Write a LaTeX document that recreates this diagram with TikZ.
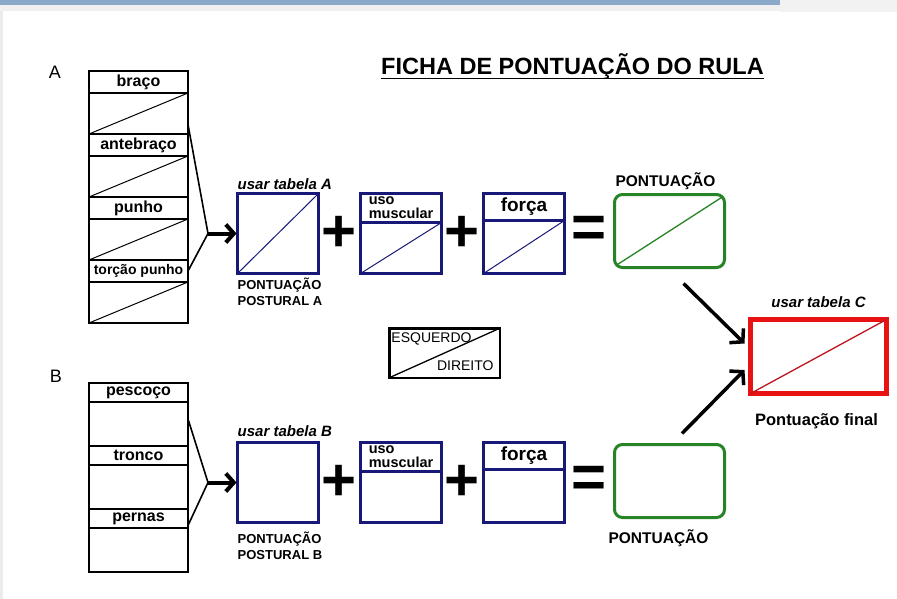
\documentclass[tikz,border=0pt]{standalone}
\usepackage{fontspec}
\setmainfont{Liberation Sans}
\usetikzlibrary{positioning,arrows.meta,calc}

\definecolor{azulescuro}{RGB}{24,24,120}
\definecolor{verdebox}{RGB}{38,132,38}
\definecolor{vermelhobox}{RGB}{232,18,18}
\definecolor{vermelhodiag}{RGB}{190,20,30}
\definecolor{barratopo}{RGB}{138,168,200}

\newcommand{\tamanho}[1]{\fontsize{#1}{#1}\selectfont}

\begin{document}
\begin{tikzpicture}[x=1pt,y=-1pt,
    headnode/.style={rectangle, draw, line width=2.5pt, inner sep=0pt, outer sep=0pt, minimum width=99pt, minimum height=22pt, font=\bfseries\tamanho{16}},
    cellnode/.style={rectangle, draw, line width=2.5pt, inner sep=0pt, outer sep=0pt, minimum width=99pt, minimum height=41pt},
    scorebox/.style={rectangle, draw=azulescuro, line width=3pt, inner sep=0pt, outer sep=0pt, minimum width=81pt, minimum height=80pt},
    scorehead/.style={rectangle, draw=azulescuro, line width=2.5pt, inner sep=0pt, outer sep=0pt, minimum width=81pt, minimum height=29pt},
    resultbox/.style={rectangle, rounded corners=8pt, draw=verdebox, line width=3pt, inner sep=0pt, outer sep=0pt, minimum width=110pt, minimum height=73pt},
    finalbox/.style={rectangle, draw=vermelhobox, line width=5pt, inner sep=0pt, outer sep=0pt, minimum width=136pt, minimum height=74pt},
    sidebox/.style={rectangle, draw, line width=2.5pt, inner sep=0pt, outer sep=0pt, minimum width=110.5pt, minimum height=49.5pt},
    opnode/.style={inner sep=0pt, font=\bfseries\tamanho{60}},
    tabnote/.style={inner sep=0pt, font=\bfseries\itshape\tamanho{15}},
    smallcap/.style={inner sep=0pt, align=left, font=\bfseries\fontsize{13}{16}\selectfont},
    greencap/.style={inner sep=0pt, font=\bfseries\tamanho{15.5}},
    usohead/.style={scorehead, anchor=north, align=left, font=\bfseries\fontsize{14.5}{14}\selectfont},
    bigarrow/.style={line width=4pt, -{Straight Barb[length=8pt,width=18pt]}, shorten >=1pt},
    bentarrow/.style={line width=3.5pt, -{Straight Barb[length=9pt,width=20pt]}},
    thinline/.style={line width=1.6pt},
    diagline/.style={line width=1pt}]

\useasboundingbox (0,0) rectangle (897,599);
\fill[white] (0,0) rectangle (897,599);
\fill[barratopo] (0,0) rectangle (780,5);
\fill[black!6] (0,5) rectangle (780,11);
\fill[black!5] (780,0) rectangle (897,12);
\fill[black!8] (0,11) rectangle (2.5,599);

% titulo
\node[inner sep=0pt, anchor=base, font=\bfseries\tamanho{23.5}] (titulo) at (572.5,75) {FICHA DE PONTUAÇÃO DO RULA};
\draw[line width=1.8pt] ([yshift=-3.5pt]titulo.base west) -- ([yshift=-3.5pt]titulo.base east);

\node[inner sep=0pt, font=\tamanho{18}] (letraA) at (55,72) {A};
\node[inner sep=0pt, font=\tamanho{18}] (letraB) at (56,376) {B};

% coluna A
\node[headnode] (braco) at (138.5,82) {braço};
\node[cellnode] (bracoC) [below=0pt of braco] {};
\node[headnode] (antebraco) [below=0pt of bracoC] {antebraço};
\node[cellnode] (antebracoC) [below=0pt of antebraco] {};
\node[headnode] (punho) [below=0pt of antebracoC] {punho};
\node[cellnode] (punhoC) [below=0pt of punho] {};
\node[headnode, font=\bfseries\tamanho{14}] (torcao) [below=0pt of punhoC] {torção punho};
\node[cellnode] (torcaoC) [below=0pt of torcao] {};
\foreach \c in {bracoC,antebracoC,punhoC,torcaoC}
    \draw[diagline] (\c.south west) -- (\c.north east);

% coluna B
\node[headnode, minimum height=19pt] (pescoco) at (138.5,392.5) {pescoço};
\node[cellnode, minimum height=44pt] (pescocoC) [below=0pt of pescoco] {};
\node[headnode, minimum height=19pt] (tronco) [below=0pt of pescocoC] {tronco};
\node[cellnode, minimum height=44pt] (troncoC) [below=0pt of tronco] {};
\node[headnode, minimum height=19pt] (pernas) [below=0pt of troncoC] {pernas};
\node[cellnode, minimum height=44pt] (pernasC) [below=0pt of pernas] {};

% linha A
\node[scorebox] (postA) at (278,233.5) {};
\node[scorebox] (usoA) [right=42pt of postA] {};
\node[usohead] (usoAh) at (usoA.north) {uso\\muscular};
\node[scorebox] (forcaA) [right=42pt of usoA] {};
\node[scorehead, anchor=north, minimum height=27pt, font=\bfseries\tamanho{19}] (forcaAh) at (forcaA.north) {força};
\node[resultbox] (totalA) at (669.5,231) {};
\node[opnode] (maisA1) at ($(postA.east)!0.5!(usoA.west)$) {+};
\node[opnode] (maisA2) at ($(usoA.east)!0.5!(forcaA.west)$) {+};
\node[opnode] (igualA) at ($(forcaA.east)!0.5!(totalA.west)$) {=};
\draw[diagline, azulescuro] (postA.south west) -- (postA.north east);
\draw[diagline, azulescuro] (usoA.south west) -- (usoAh.south east);
\draw[diagline, azulescuro] (forcaA.south west) -- (forcaAh.south east);
\draw[diagline, verdebox, line width=1.3pt] ([shift={(3pt,3pt)}]totalA.south west) -- ([shift={(-3pt,-3pt)}]totalA.north east);
\node[tabnote, anchor=south west] (tabA) at ([yshift=4pt]postA.north west) {usar tabela A};
\node[smallcap, anchor=north west] (posturalA) at ([yshift=-4pt]postA.south west) {PONTUAÇÃO\\POSTURAL A};
\node[greencap, anchor=base] (pontA) at ([xshift=-4pt,yshift=8pt]totalA.north) {PONTUAÇÃO};

% linha B
\node[scorebox] (postB) at (278,482.5) {};
\node[scorebox] (usoB) [right=42pt of postB] {};
\node[usohead] (usoBh) at (usoB.north) {uso\\muscular};
\node[scorebox] (forcaB) [right=42pt of usoB] {};
\node[scorehead, anchor=north, minimum height=27pt, font=\bfseries\tamanho{19}] (forcaBh) at (forcaB.north) {força};
\node[resultbox] (totalB) at (669.5,481) {};
\node[opnode] (maisB1) at ($(postB.east)!0.5!(usoB.west)$) {+};
\node[opnode] (maisB2) at ($(usoB.east)!0.5!(forcaB.west)$) {+};
\node[opnode] (igualB) at ($(forcaB.east)!0.5!(totalB.west)$) {=};
\node[tabnote, anchor=south west] (tabB) at ([yshift=6pt]postB.north west) {usar tabela B};
\node[smallcap, anchor=north west] (posturalB) at ([yshift=-9pt]postB.south west) {PONTUAÇÃO\\POSTURAL B};
\node[greencap, anchor=base] (pontB) at ([xshift=-11pt,yshift=-26pt]totalB.south) {PONTUAÇÃO};

% ligacoes das colunas
\coordinate (juncA) at (208,233.5);
\coordinate (juncB) at (208,482.5);
\draw[thinline] ([yshift=-11pt]bracoC.east) -- (juncA) -- (torcao.east);
\draw[bigarrow] (juncA) -- (postA.west);
\draw[thinline] ([yshift=5pt]pescocoC.east) -- (juncB) -- ([yshift=-7pt]pernas.east);
\draw[bigarrow] (juncB) -- (postB.west);

% lado
\node[sidebox] (lado) at (444.5,353) {};
\draw[diagline, line width=1.3pt] (lado.south west) -- (lado.north east);
\node[inner sep=0pt, anchor=north west, font=\tamanho{14}] (esq) at ([xshift=2pt,yshift=-4pt]lado.north west) {ESQUERDO};
\node[inner sep=0pt, anchor=south east, font=\tamanho{14}] (dir) at ([xshift=-6pt,yshift=7pt]lado.south east) {DIREITO};

% pontuacao final
\node[finalbox] (final) at (818.5,356.5) {};
\draw[diagline, vermelhodiag, line width=1.3pt] (final.south west) -- (final.north east);
\node[tabnote, anchor=base] (tabC) at ([yshift=12pt]final.north) {usar tabela C};
\node[inner sep=0pt, anchor=base, font=\bfseries\tamanho{16.5}] (pfinal) at ([xshift=-2pt,yshift=-32pt]final.south) {Pontuação final};
\draw[bentarrow] ([xshift=14pt,yshift=-16pt]totalA.south) -- ([xshift=-6pt,yshift=13pt]final.west);
\draw[bentarrow] ([xshift=12.5pt,yshift=11pt]totalB.north) -- ([xshift=-6pt,yshift=-13.5pt]final.west);

\end{tikzpicture}
\end{document}
